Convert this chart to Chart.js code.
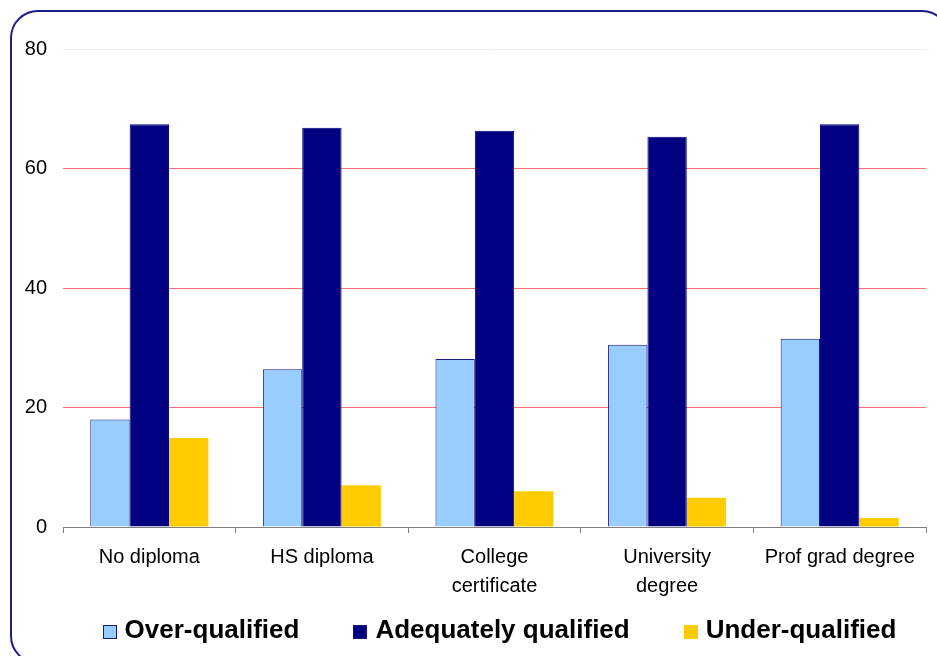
<!DOCTYPE html>
<html lang="en">
<head>
    <meta charset="UTF-8">
    <title>Qualification match by education level</title>
    <style>
        html, body {
            margin: 0;
            background: #ffffff;
            overflow: hidden;
            font-family: 'Liberation Sans', Arial, sans-serif;
        }
        .frame {
            position: absolute;
            left: 10px;
            top: 10px;
            width: 940px;
            height: 654px;
            border: 2px solid #1c1c8a;
            border-radius: 28px;
            box-sizing: border-box;
        }
        .wrap {
            position: absolute;
            left: 0;
            top: 0;
            width: 937px;
            height: 656px;
        }
        #legend {
            position: absolute;
            left: 73px;
            width: 853px;
            top: 614px;
            display: flex;
            justify-content: center;
            gap: 54px;
            font-size: 26px;
            font-weight: bold;
            color: #000;
        }
        #legend .item {
            display: flex;
            align-items: center;
            white-space: nowrap;
        }
        #legend .box {
            width: 14px;
            height: 14px;
            box-sizing: border-box;
            border: 1px solid #1a1a80;
            margin-right: 8px;
            margin-top: 4px;
        }
    </style>
</head>
<body>
    <div class="frame"></div>
    <div class="wrap">
        <canvas id="chart" width="937" height="656"></canvas>
    </div>
    <div id="legend"></div>

    <script src="https://cdn.jsdelivr.net/npm/chart.js"></script>
    <script>
        // education levels (multi-line labels as arrays)
        const categories = [
            'No diploma',
            'HS diploma',
            ['College', 'certificate'],
            ['University', 'degree'],
            'Prof grad degree'
        ];
        const overQualified = [18, 26.4, 28.1, 30.5, 31.5];
        const adequatelyQualified = [67.4, 66.8, 66.3, 65.3, 67.4];
        const underQualified = [14.9, 7.0, 6.0, 4.9, 1.5];
        const yTicks = [0, 20, 40, 60, 80];

        const FONT = "'Liberation Sans', Arial, sans-serif";
        const gridColors = yTicks.map(v => v === 0 ? 'rgba(0,0,0,0)' : (v === 80 ? '#f8eaea' : '#ff7070'));

        const ctx = document.getElementById('chart').getContext('2d');
        const chart = new Chart(ctx, {
            type: 'bar',
            data: {
                labels: categories,
                datasets: [{
                    label: 'Over-qualified',
                    data: overQualified,
                    backgroundColor: '#99ccff',
                    borderColor: '#1a1a80',
                    borderWidth: 1
                }, {
                    label: 'Adequately qualified',
                    data: adequatelyQualified,
                    backgroundColor: '#000080',
                    borderColor: '#000080',
                    borderWidth: 1
                }, {
                    label: 'Under-qualified',
                    data: underQualified,
                    backgroundColor: '#ffcc00',
                    borderColor: '#ffcc00',
                    borderWidth: 0
                }]
            },
            options: {
                responsive: false,
                animation: false,
                categoryPercentage: 0.684,
                barPercentage: 1.0,
                layout: {
                    padding: { top: 49, right: 11, left: 0, bottom: 39 }
                },
                plugins: {
                    tooltip: { enabled: false },
                    legend: { display: false }
                },
                scales: {
                    x: {
                        grid: {
                            offset: true,
                            drawOnChartArea: false,
                            drawTicks: true,
                            tickLength: 6,
                            color: '#808080'
                        },
                        border: { color: '#808080', width: 1 },
                        ticks: {
                            color: '#000000',
                            padding: 10,
                            maxRotation: 0,
                            font: { family: FONT, size: 20, lineHeight: 1.45 }
                        },
                        afterFit(scale) { scale.height = 90; }
                    },
                    y: {
                        min: 0,
                        max: 80,
                        afterBuildTicks(scale) {
                            scale.ticks = yTicks.map(v => ({ value: v }));
                        },
                        grid: {
                            drawTicks: false,
                            color: gridColors
                        },
                        border: { display: false },
                        ticks: {
                            color: '#000000',
                            padding: 16,
                            font: { family: FONT, size: 20 }
                        },
                        afterFit(scale) { scale.width = 63; }
                    }
                }
            }
        });

        // legend built from the dataset colours
        const legendEl = document.getElementById('legend');
        chart.data.datasets.forEach((ds, i) => {
            const item = document.createElement('div');
            item.className = 'item';
            const box = document.createElement('span');
            box.className = 'box';
            box.style.background = ds.backgroundColor;
            if (i === 2) box.style.borderColor = ds.backgroundColor;
            const txt = document.createElement('span');
            txt.textContent = ds.label;
            item.appendChild(box);
            item.appendChild(txt);
            legendEl.appendChild(item);
        });
    </script>
</body>
</html>
